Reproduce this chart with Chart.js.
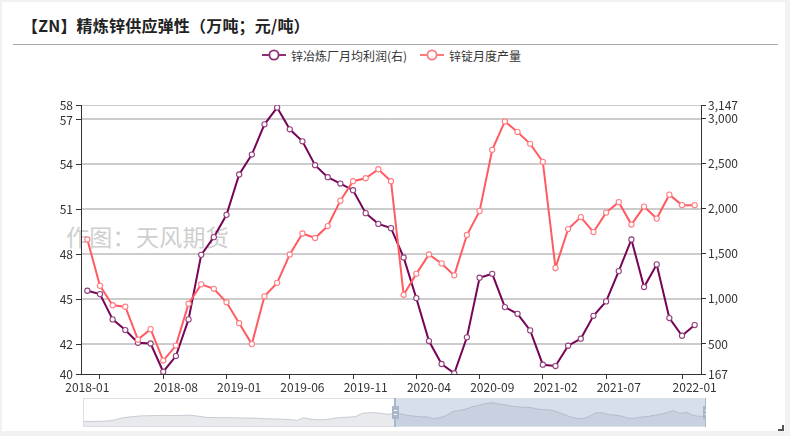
<!DOCTYPE html>
<html><head><meta charset="utf-8">
<script src="https://cdn.jsdelivr.net/npm/chart.js@4.4.1/dist/chart.umd.min.js"></script>
<style>
html,body{margin:0;padding:0;}
body{width:790px;height:436px;background:#f2f2f2;position:relative;overflow:hidden;font-family:"Noto Sans CJK SC","Noto Sans",sans-serif;}
#card{position:absolute;left:2px;top:2px;width:783px;height:429px;background:#fff;}
#title{position:absolute;left:22px;top:13px;font-size:16px;font-weight:bold;color:#222;white-space:nowrap;letter-spacing:0.2px;}
#rule{position:absolute;left:13px;top:44px;width:765px;height:1px;background:#aaa;}
.lg{position:absolute;top:46px;height:18px;display:flex;align-items:center;font-size:12px;color:#333;white-space:nowrap;}
.lg svg{margin-right:5px;}
#wm{position:absolute;left:66px;top:219px;font-size:23px;color:#cfcfcf;white-space:nowrap;letter-spacing:0.3px;}
#main{position:absolute;left:0;top:0;}
#mini{position:absolute;left:83px;top:398px;}
#corner1{position:absolute;left:782px;top:425px;width:2px;height:6px;background:#555;}
#corner2{position:absolute;left:778px;top:429px;width:6px;height:2px;background:#555;}
</style>
</head>
<body>
<div id="card"></div>
<div id="title">【ZN】精炼锌供应弹性（万吨；元/吨）</div>
<div id="rule"></div>
<div id="wm">作图：天风期货</div>
<div id="lg1" class="lg" style="left:262px"></div>
<div id="lg2" class="lg" style="left:420px"></div>
<canvas id="main" width="790" height="436"></canvas>
<canvas id="mini" width="623" height="29"></canvas>
<div id="corner1"></div><div id="corner2"></div>
<script>
// ---- data ----
const startYear = 2014; // slider data begins 2014-01, main view starts 2018-01
const seriesNames = ['锌冶炼厂月均利润(右)', '锌锭月度产量'];
// profit (元/吨), 2014-01 .. 2017-12 (read from the slider shadow)
const profitEarly = [-322,-322,-320,-300,-200,-9,300,470,600,700,727,750,760,760,750,740,837,740,600,420,380,360,359,350,330,300,290,250,175,150,120,60,0,-138,359,100,10,0,100,300,420,480,550,1150,1278,1278,1150,990];
// profit (元/吨), 2018-01 .. 2022-01
const profit = [1089,1052,772,654,513,505,192,366,772,1487,1683,1930,2377,2598,2933,3118,2878,2745,2480,2347,2277,2203,1949,1830,1783,1458,1008,532,278,175,573,1233,1277,908,834,650,270,255,480,558,812,971,1307,1657,1130,1381,787,591,709];
// production (万吨), 2018-01 .. 2022-01
const production = [49.0,45.9,44.6,44.5,42.3,43.0,40.9,41.9,44.7,46.0,45.7,44.8,43.4,42.0,45.2,46.1,48.0,49.4,49.1,49.9,51.6,52.9,53.1,53.7,52.9,45.3,46.7,48.0,47.4,46.6,49.3,50.9,55.0,56.9,56.2,55.4,54.2,47.1,49.7,50.5,49.5,50.8,51.5,50.0,51.2,50.4,52.0,51.3,51.3];
const leftTicks = [40,42,45,48,51,54,57,58];
const rightTicks = [167,500,1000,1500,2000,2500,3000,3147];
const xLabelIdx = [0,7,12,17,22,27,32,37,42,48];
const xTickIdx = [1,6,11,16,21,26,31,36,41,47];

const allMonths = [];
for (let i = 0; i < profitEarly.length + profit.length; i++) {
  const y = startYear + Math.floor(i / 12), m = i % 12 + 1;
  allMonths.push(y + '-' + (m < 10 ? '0' + m : m));
}
const months = allMonths.slice(profitEarly.length);

const C_PROFIT = '#760457', C_PROD = '#ff5b61';
const FONT = '"Noto Sans CJK SC","Noto Sans",sans-serif';

// legend (HTML)
function icon(c){return '<svg width="24" height="12"><line x1="0" y1="6" x2="24" y2="6" stroke="'+c+'" stroke-width="2"/><circle cx="12" cy="6" r="4.6" fill="#fff" stroke="'+c+'" stroke-width="1.8"/></svg>';}
document.getElementById('lg1').innerHTML = icon('#8e2f73') + '<span>' + seriesNames[0] + '</span>';
document.getElementById('lg2').innerHTML = icon('#ff7a7f') + '<span>' + seriesNames[1] + '</span>';

Chart.defaults.font.family = FONT;

new Chart(document.getElementById('main'), {
  type: 'line',
  data: {
    labels: months,
    datasets: [
      {label: seriesNames[0], data: profit, yAxisID: 'y1', order: 1,
       borderColor: C_PROFIT, borderWidth: 2, tension: 0,
       pointRadius: 2.6, pointBorderWidth: 1.1, pointBackgroundColor: '#fff', pointBorderColor: '#93407d'},
      {label: seriesNames[1], data: production, yAxisID: 'y', order: 0,
       borderColor: C_PROD, borderWidth: 2, tension: 0,
       pointRadius: 2.6, pointBorderWidth: 1.1, pointBackgroundColor: '#fff', pointBorderColor: '#ff7e84'}
    ]
  },
  options: {
    responsive: false, animation: false, devicePixelRatio: 1,
    layout: {padding: {left: 0, right: 0, top: 105, bottom: 32}},
    plugins: {legend: {display: false}, tooltip: {enabled: false}},
    scales: {
      x: {
        type: 'category', offset: true,
        afterFit: s => { s.height = 30; },
        grid: {offset: false, drawOnChartArea: false, tickLength: 5,
               tickColor: ctx => xTickIdx.includes(ctx.index) ? '#333' : 'rgba(0,0,0,0)'},
        border: {color: '#333', width: 1},
        ticks: {autoSkip: false, maxRotation: 0, minRotation: 0, padding: 1,
                color: '#333', font: {size: 12},
                callback: (v, i) => xLabelIdx.includes(i) ? months[i] : ''}
      },
      y: {
        position: 'left', min: leftTicks[0], max: leftTicks[leftTicks.length - 1],
        afterBuildTicks: s => { s.ticks = leftTicks.map(v => ({value: v})); },
        afterFit: s => { s.width = 81; },
        grid: {color: '#cccccc', lineWidth: 1, tickColor: '#333', tickLength: 5},
        border: {color: '#333', width: 1},
        ticks: {color: '#333', font: {size: 12}, padding: 3}
      },
      y1: {
        position: 'right', min: rightTicks[0], max: rightTicks[rightTicks.length - 1],
        afterBuildTicks: s => { s.ticks = rightTicks.map(v => ({value: v})); },
        afterFit: s => { s.width = 89; },
        grid: {color: '#cccccc', lineWidth: 1, tickColor: '#333', tickLength: 5, drawOnChartArea: true},
        border: {color: '#333', width: 1},
        ticks: {color: '#333', font: {size: 12}, padding: 2,
                callback: v => v.toLocaleString('en-US')}
      }
    }
  }
});

// dataZoom-like slider: shadow of the first series over the full period
const selStart = profitEarly.length, selEnd = allMonths.length - 1;
const sliderPlugin = {
  id: 'slider',
  afterDatasetsDraw(chart) {
    const ctx = chart.ctx, a = chart.chartArea, xs = chart.scales.x;
    const x0 = xs.getPixelForValue(selStart), x1 = xs.getPixelForValue(selEnd);
    ctx.save();
    ctx.fillStyle = 'rgba(135,155,195,0.32)';
    ctx.fillRect(x0, a.top, x1 - x0, a.bottom - a.top);
    ctx.strokeStyle = '#dcdfe5'; ctx.lineWidth = 1;
    ctx.strokeRect(a.left + 0.5, a.top + 0.5, a.right - a.left - 1, a.bottom - a.top - 1);
    [x0, x1].forEach(x => {
      ctx.fillStyle = '#a9b7cc';
      ctx.fillRect(Math.round(x) - 1, a.top, 2, a.bottom - a.top);
      ctx.fillRect(Math.round(x) - 3, a.top + 8, 7, 13);
      ctx.fillStyle = '#fff';
      ctx.fillRect(Math.round(x) - 1, a.top + 12, 3, 1);
      ctx.fillRect(Math.round(x) - 1, a.top + 16, 3, 1);
    });
    ctx.restore();
  }
};
new Chart(document.getElementById('mini'), {
  type: 'line',
  data: {labels: allMonths, datasets: [{data: profitEarly.concat(profit),
    borderColor: 'rgba(150,156,168,0.45)', borderWidth: 1, pointRadius: 0, tension: 0,
    fill: 'start', backgroundColor: 'rgba(180,185,195,0.30)'}]},
  options: {
    responsive: false, animation: false, devicePixelRatio: 1,
    layout: {padding: 0},
    plugins: {legend: {display: false}, tooltip: {enabled: false}},
    scales: {
      x: {display: false, offset: false},
      y: {display: false, min: -1350, max: 3960}
    }
  },
  plugins: [sliderPlugin]
});
</script>
</body></html>
